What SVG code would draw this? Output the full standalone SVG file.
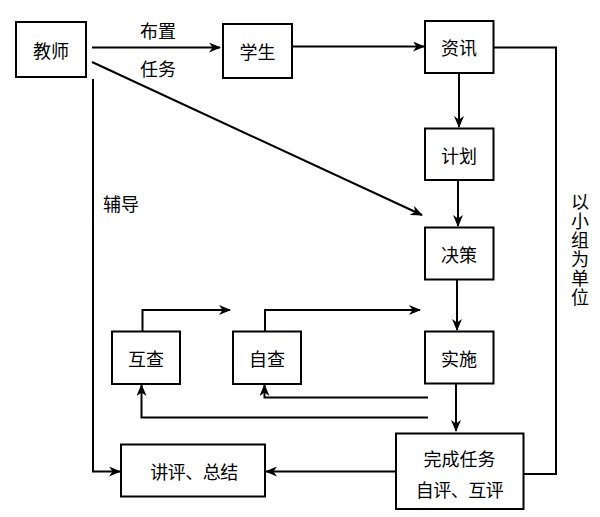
<svg xmlns="http://www.w3.org/2000/svg" width="600" height="517" viewBox="0 0 600 517">
<style>
rect.n{fill:#fff;stroke:#000;stroke-width:2}
text{font-family:"Noto Sans CJK SC","Noto Sans",sans-serif;font-size:18px;fill:#000;dominant-baseline:central}
text.c{text-anchor:middle}
text.v{writing-mode:vertical-rl;text-anchor:start;letter-spacing:1px}
.e{fill:none;stroke:#000;stroke-width:2}
</style>
<defs>
<marker id="a" viewBox="0 0 12 10" refX="11" refY="5" markerWidth="12" markerHeight="10" markerUnits="userSpaceOnUse" orient="auto">
<path d="M0,0 L12,5 L0,10 L3.5,5 z" fill="#000"/>
</marker>
</defs>
<rect width="600" height="517" fill="#fff"/>
<g id="connectors">
<path class="e" d="M92,47.5 H220" marker-end="url(#a)"/>
<path class="e" d="M292,46.5 H424" marker-end="url(#a)"/>
<path class="e" d="M92,62 L422,215" marker-end="url(#a)"/>
<path class="e" d="M93,79 V471.5 H120" marker-end="url(#a)"/>
<path class="e" d="M459,73 V127" marker-end="url(#a)"/>
<path class="e" d="M458,180 V226" marker-end="url(#a)"/>
<path class="e" d="M457,279 V330" marker-end="url(#a)"/>
<path class="e" d="M456,384 V431" marker-end="url(#a)"/>
<path class="e" d="M493.5,47.5 H556 V474 H524"/>
<path class="e" d="M396,471.5 H266" marker-end="url(#a)"/>
<path class="e" d="M142.5,331 V310 H230" marker-end="url(#a)"/>
<path class="e" d="M265,331 V310 H420" marker-end="url(#a)"/>
<path class="e" d="M428,397.5 H264.5 V385" marker-end="url(#a)"/>
<path class="e" d="M428,417.5 H141.5 V385" marker-end="url(#a)"/>
<text x="158" y="30" class="c">布置</text>
<text x="158" y="68" class="c">任务</text>
<text x="103" y="203">辅导</text>
<text x="580" y="193" class="v">以小组为单位</text>
</g>
<g id="n_teacher"><rect class="n" x="16" y="22" width="70" height="55"/><text x="51" y="50" class="c">教师</text></g>
<g id="n_student"><rect class="n" x="223" y="24" width="69" height="54"/><text x="257.5" y="51" class="c">学生</text></g>
<g id="n_info"><rect class="n" x="425" y="21" width="68.5" height="52"/><text x="459" y="47" class="c">资讯</text></g>
<g id="n_plan"><rect class="n" x="425" y="128.5" width="68.5" height="51.5"/><text x="459" y="154.5" class="c">计划</text></g>
<g id="n_decide"><rect class="n" x="425" y="227.5" width="68.5" height="52"/><text x="459" y="253.5" class="c">决策</text></g>
<g id="n_impl"><rect class="n" x="425" y="331.5" width="68.5" height="52"/><text x="459" y="357.5" class="c">实施</text></g>
<g id="n_mutual"><rect class="n" x="112" y="331.5" width="68" height="52.5"/><text x="146" y="358" class="c">互查</text></g>
<g id="n_self"><rect class="n" x="233" y="331.5" width="68" height="52.5"/><text x="267" y="358" class="c">自查</text></g>
<g id="n_review"><rect class="n" x="121" y="444.5" width="144" height="52"/><text x="194" y="471" class="c" letter-spacing="-0.5">讲评、总结</text></g>
<g id="n_done"><rect class="n" x="396" y="433.5" width="127.5" height="75.5"/><text x="459.5" y="457.5" class="c">完成任务</text><text x="459.5" y="488.5" class="c" letter-spacing="-0.5">自评、互评</text></g>
</svg>
